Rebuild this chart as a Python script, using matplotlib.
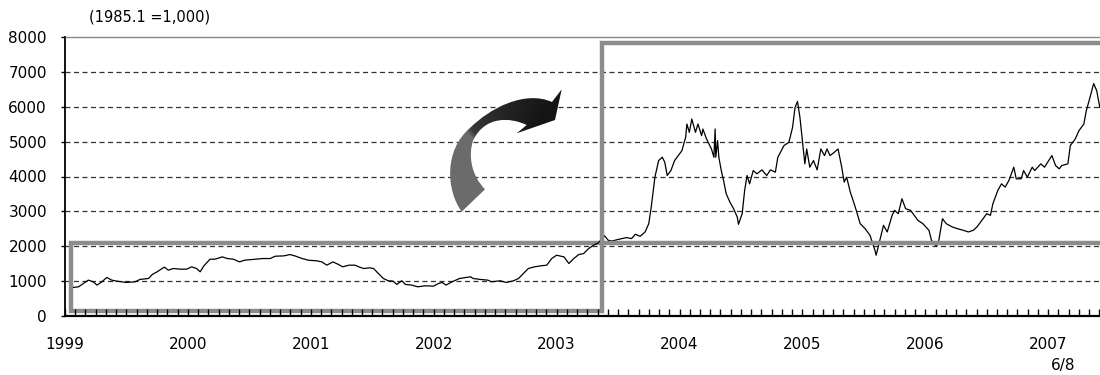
import numpy as np
import matplotlib
matplotlib.use("Agg")
import matplotlib.pyplot as plt
from matplotlib.patches import Rectangle, PathPatch
from matplotlib.path import Path
from matplotlib.ticker import MultipleLocator, FixedLocator

# ---- data (decimal year, index value) ----
years = [1999.07, 1999.11, 1999.15, 1999.19, 1999.23, 1999.26, 1999.30, 1999.34, 1999.38, 1999.42,
         1999.50, 1999.57, 1999.61, 1999.68, 1999.71, 1999.75, 1999.79, 1999.81, 1999.84, 1999.88,
         1999.94, 1999.99, 2000.03, 2000.07, 2000.10, 2000.13, 2000.18, 2000.22, 2000.28, 2000.32,
         2000.37, 2000.42, 2000.46, 2000.55, 2000.61, 2000.67, 2000.71, 2000.78, 2000.83, 2000.87,
         2000.93, 2000.98, 2001.05, 2001.09, 2001.13, 2001.18, 2001.22, 2001.26, 2001.31, 2001.36,
         2001.39, 2001.43, 2001.48, 2001.51, 2001.55, 2001.59, 2001.63, 2001.67, 2001.70, 2001.74,
         2001.77, 2001.82, 2001.87, 2001.93, 2002.00, 2002.04, 2002.07, 2002.10, 2002.15, 2002.21,
         2002.30, 2002.32, 2002.38, 2002.44, 2002.47, 2002.54, 2002.59, 2002.65, 2002.69, 2002.73,
         2002.77, 2002.82, 2002.87, 2002.92, 2002.96, 2003.00, 2003.06, 2003.10, 2003.14, 2003.18,
         2003.22, 2003.26, 2003.30, 2003.34, 2003.39, 2003.42, 2003.45, 2003.53, 2003.57, 2003.61,
         2003.64, 2003.68, 2003.72, 2003.75, 2003.77, 2003.80, 2003.83, 2003.86, 2003.88, 2003.90,
         2003.93, 2003.96, 2004.02, 2004.05, 2004.06, 2004.08, 2004.10, 2004.13, 2004.15, 2004.18,
         2004.19, 2004.22, 2004.26, 2004.28, 2004.29, 2004.295, 2004.31, 2004.32, 2004.34, 2004.36,
         2004.38, 2004.41, 2004.44, 2004.47, 2004.48, 2004.51, 2004.53, 2004.55, 2004.57, 2004.60,
         2004.63, 2004.67, 2004.71, 2004.74, 2004.78, 2004.80, 2004.85, 2004.89, 2004.92, 2004.94,
         2004.96, 2004.98, 2005.00, 2005.02, 2005.035, 2005.06, 2005.09, 2005.12, 2005.15, 2005.18,
         2005.20, 2005.225, 2005.26, 2005.29, 2005.32, 2005.34, 2005.36, 2005.39, 2005.43, 2005.47,
         2005.51, 2005.55, 2005.59, 2005.60, 2005.63, 2005.66, 2005.69, 2005.73, 2005.75, 2005.78,
         2005.81, 2005.84, 2005.88, 2005.90, 2005.94, 2005.98, 2006.03, 2006.05, 2006.09, 2006.11,
         2006.14, 2006.17, 2006.22, 2006.26, 2006.31, 2006.35, 2006.39, 2006.42, 2006.46, 2006.50,
         2006.53, 2006.55, 2006.59, 2006.62, 2006.65, 2006.68, 2006.72, 2006.74, 2006.78, 2006.80,
         2006.83, 2006.87, 2006.89, 2006.94, 2006.97, 2007.03, 2007.06, 2007.09, 2007.11, 2007.16,
         2007.18, 2007.22, 2007.25, 2007.29, 2007.31, 2007.34, 2007.37, 2007.395, 2007.42]
values = [820, 837, 934, 1029, 980, 886, 980, 1105, 1029, 1000,
          962, 980, 1048, 1076, 1190, 1267, 1362, 1400, 1314, 1362,
          1343, 1343, 1410, 1362, 1267, 1438, 1629, 1629, 1695, 1648,
          1629, 1552, 1600, 1629, 1648, 1648, 1714, 1724, 1762, 1724,
          1648, 1600, 1581, 1552, 1457, 1552, 1486, 1410, 1457, 1457,
          1410, 1362, 1381, 1362, 1219, 1076, 1010, 1000, 905, 1010,
          905, 886, 837, 866, 857, 934, 962, 886, 980, 1076,
          1124, 1076, 1048, 1029, 980, 1010, 962, 1010, 1076, 1219,
          1362, 1410, 1438, 1457, 1648, 1743, 1695, 1505, 1648, 1762,
          1790, 1933, 2029, 2100, 2300, 2171, 2150, 2219, 2248, 2219,
          2343, 2286, 2410, 2648, 3124, 3981, 4457, 4552, 4410, 4029,
          4171, 4457, 4743, 5124, 5505, 5267, 5648, 5267, 5505, 5171,
          5362, 5076, 4790, 4552, 5362, 4552, 5029, 4552, 4171, 3860,
          3505, 3267, 3076, 2838, 2629, 2933, 3600, 4029, 3790, 4171,
          4076, 4190, 4029, 4190, 4124, 4552, 4886, 4981, 5410, 5981,
          6152, 5695, 5029, 4362, 4790, 4267, 4457, 4190, 4790, 4600,
          4790, 4600, 4695, 4790, 4267, 3838, 3981, 3550, 3124, 2648,
          2505, 2314, 1886, 1743, 2171, 2600, 2410, 2886, 3029, 2933,
          3362, 3076, 3029, 2933, 2743, 2648, 2457, 2171, 2000, 2171,
          2790, 2648, 2552, 2505, 2457, 2410, 2457, 2552, 2743, 2933,
          2886, 3219, 3600, 3790, 3695, 3886, 4267, 3933, 3933, 4171,
          3981, 4267, 4171, 4362, 4267, 4600, 4314, 4219, 4314, 4362,
          4886, 5076, 5314, 5505, 5886, 6267, 6667, 6457, 5981]

year_labels = ["1999", "2000", "2001", "2002", "2003", "2004", "2005", "2006", "2007"]
y_ticks = [0, 1000, 2000, 3000, 4000, 5000, 6000, 7000, 8000]
base_note = "(1985.1 =1,000)"
end_note = "6/8"

plt.rcParams['font.family'] = ['DejaVu Sans']

fig = plt.figure(figsize=(11, 3.75), dpi=100)
ax = fig.add_axes([65 / 1100, 1 - 316 / 375, 1035 / 1100, 279 / 375])

x0, x1 = 1999.0, 1999.0 + 1035 / 122.9
ax.set_xlim(x0, x1)
ax.set_ylim(0, 8000)

# dashed grid
for v in y_ticks[1:-1]:
    ax.axhline(v, color='#333333', lw=0.9, dashes=(4.0, 2.8), zorder=1)

ax.plot(years, values, color='black', lw=0.9, zorder=3)

# grey highlight boxes
gcol = '#8c8c8c'
ax.add_patch(Rectangle((1999.045, 130), 2003.37 - 1999.045, 2100 - 130,
                       fill=False, ec=gcol, lw=3.2, zorder=2.5, joinstyle='miter'))
ax.add_patch(Rectangle((2003.37, 2100), 2008.5 - 2003.37, 7840 - 2100,
                       fill=False, ec=gcol, lw=3.2, zorder=4, joinstyle='miter', clip_on=True))

# spines
ax.spines['right'].set_visible(False)
ax.spines['top'].set_color('#888888')
ax.spines['top'].set_linewidth(1.0)
ax.spines['left'].set_linewidth(1.3)
ax.spines['bottom'].set_linewidth(1.6)

ax.set_yticks(y_ticks)
ax.set_yticklabels([str(v) for v in y_ticks])
ax.tick_params(axis='y', direction='out', length=3, width=1, pad=10, labelsize=11)

ax.xaxis.set_major_locator(FixedLocator([1999 + i for i in range(len(year_labels))]))
ax.set_xticklabels(year_labels)
ax.xaxis.set_minor_locator(MultipleLocator(1 / 12))
ax.tick_params(axis='x', which='both', direction='in', length=5, width=1, top=False)
ax.tick_params(axis='x', which='major', pad=15, labelsize=11)
ax.set_axisbelow(False)

ax.text(2007.12, -0.176, end_note, transform=ax.get_xaxis_transform(),
        ha='center', va='center', fontsize=11)
fig.text(150 / 1100, 1 - 17 / 375, base_note, ha='center', va='center', fontsize=10.5)

# curved arrow (decoration) in pixel space overlay
ov = fig.add_axes([0, 0, 1, 1], zorder=5)
ov.set_xlim(0, 1100)
ov.set_ylim(375, 0)
ov.axis('off')
ov.patch.set_alpha(0)
M, C, L = Path.MOVETO, Path.CURVE4, Path.LINETO
verts = [(461.7, 211.7),
         (446, 190), (444, 150), (470, 128),
         (490, 108), (525, 90), (552, 102),
         (561.7, 89.3), (555, 120), (516.7, 133.3), (526.7, 125),
         (510, 117), (485, 116), (473.3, 140),
         (468, 155), (471, 175), (485, 189.3),
         (461.7, 211.7)]
codes = [M, C, C, C, C, C, C, L, L, L, L, C, C, C, C, C, C, L]
arrow_path = Path(verts, codes)
patch = PathPatch(arrow_path, fc='none', ec='none')
ov.add_patch(patch)
gx = np.linspace(440, 570, 260)
gy = np.linspace(80, 220, 280)
GX, GY = np.meshgrid(gx, gy)
theta = np.degrees(np.arctan2(-(GY - 165), GX - 500)) % 360
t = np.clip((136 - theta) / 8, 0, 1)          # 0 -> grey tail, 1 -> dark head
far = np.clip((128 - theta) / 80, 0, 1)
gray = 0.42 * (1 - t) + t * (0.22 - 0.14 * far)
img = np.dstack([gray, gray, gray])
im = ov.imshow(img, extent=(440, 570, 220, 80), origin='upper', interpolation='bilinear', aspect='auto')
im.set_clip_path(patch)

fig.savefig('out.png', dpi=100)
